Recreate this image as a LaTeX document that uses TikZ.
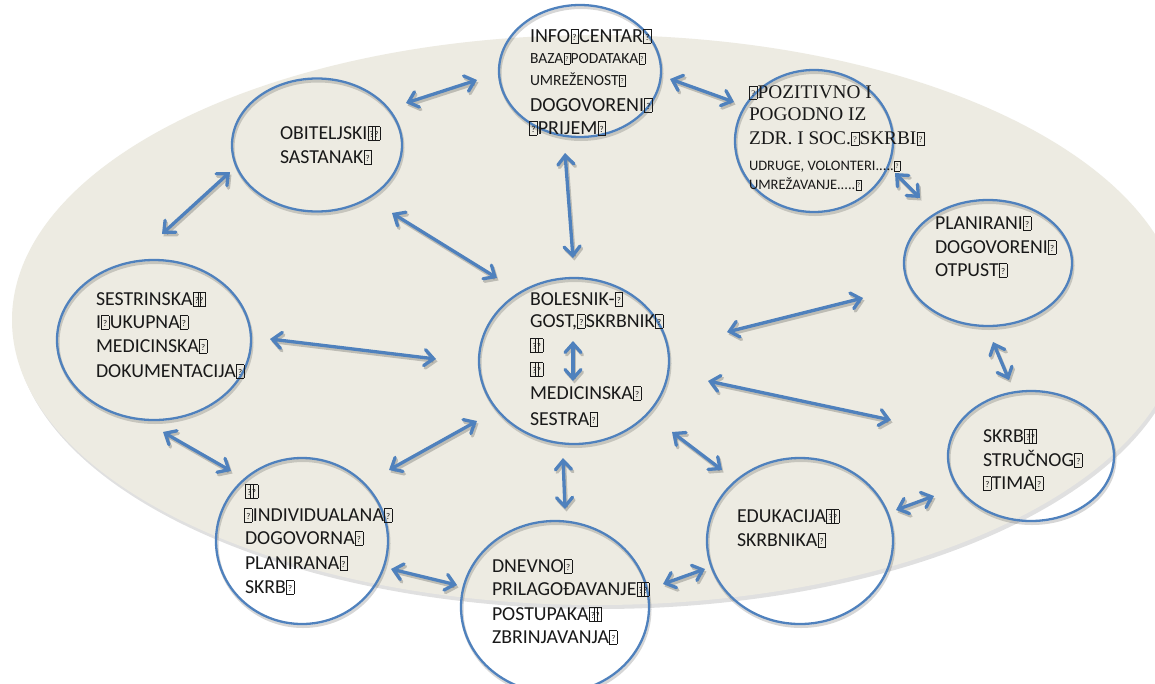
\documentclass[tikz,border=0pt]{standalone}
\usepackage{fontspec}
\setmainfont{Carlito}
\newfontfamily\serifface{Liberation Serif}
\usetikzlibrary{arrows.meta,shapes.geometric}

\definecolor{ringblue}{RGB}{79,129,189}
\definecolor{paper}{RGB}{237,235,226}
\definecolor{ink}{RGB}{25,25,25}

% font sizes (1pt = 1 pixel of the canvas)
\newcommand\szMain{\fontsize{19.8}{23.6}\selectfont}
\newcommand\szHead{\fontsize{20}{24}\selectfont}
\newcommand\szSmall{\fontsize{15.5}{18}\selectfont}
\newcommand\szTiny{\fontsize{14.5}{17}\selectfont}
\newcommand\szSerif{\serifface\fontsize{19.3}{23}\selectfont}

% placeholder glyph box left by a missing character
\newcommand\qb{\kern0.3pt\raisebox{-0.04em}{\setlength\fboxsep{0pt}\setlength\fboxrule{0.45pt}%
  \fbox{\makebox[0.36em][c]{\rule{0pt}{0.66em}\raisebox{0.12em}{\scalebox{0.45}{?}}}}}\kern0.3pt}
\newcommand\qo{\qb\kern0.2pt}
\newcommand\qq{\qb\kern-0.2em\qb}

\begin{document}
\begin{tikzpicture}[x=1pt,y=-1pt,
  ring/.style={ellipse, draw=ringblue, line width=2.3pt, inner sep=0pt,
    preaction={draw=black, draw opacity=0.16, line width=3pt,
      transform canvas={shift={(1pt,-2.5pt)}}}},
  txt/.style={anchor=base west, inner sep=0pt, outer sep=0pt, text=ink, font=\szMain},
  arr/.style={draw=ringblue, line width=3.3pt,
    {Straight Barb[length=9pt,width=16pt,line cap=round]}-{Straight Barb[length=9pt,width=16pt,line cap=round]}},
  arrshade/.style={arr, draw=black, draw opacity=0.2,
    transform canvas={shift={(1.5pt,-2.5pt)}}}
]
\useasboundingbox (0,0) rectangle (1155,683);
\fill[white] (0,0) rectangle (1155,683);

% backdrop
\fill[black, opacity=0.12] (599,324) ellipse [x radius=585, y radius=285];
\fill[paper] (597,320) ellipse [x radius=585, y radius=285];

% circles
\node[ring, minimum width=162, minimum height=132] (info) at (580,71) {};
\node[ring, minimum width=158, minimum height=142] (pozit) at (814,141) {};
\node[ring, minimum width=170, minimum height=133] (obit) at (317,145) {};
\node[ring, minimum width=168, minimum height=126] (plan) at (988,263) {};
\node[ring, minimum width=194, minimum height=160] (sestr) at (154,340) {};
\node[ring, minimum width=190, minimum height=166] (boles) at (574,361) {};
\node[ring, minimum width=166, minimum height=130] (tim) at (1031,456) {};
\node[ring, minimum width=186, minimum height=166] (eduk) at (800,541) {};
\node[ring, minimum width=172, minimum height=166] (indiv) at (302,541) {};
\node[ring, minimum width=188, minimum height=172] (dnev) at (555,607) {};

% INFO CENTAR
\node[txt, font=\szHead]  (info-1) at (530,42)  {INFO\qo CENTAR\qb};
\node[txt, font=\szSmall] (info-2) at (530,63)  {BAZA\qo PODATAKA\qb};
\node[txt, font=\szSmall] (info-3) at (530,85)  {UMREŽENOST\qb};
\node[txt, font=\szHead]  (info-4) at (530,111) {DOGOVORENI\qb};
\node[txt, font=\szHead]  (info-5) at (529,134) {\qo PRIJEM\qb};

% POZITIVNO I POGODNO
\node[txt, font=\szSerif] (poz-1) at (749,98)  {\qo POZITIVNO I};
\node[txt, font=\szSerif] (poz-2) at (749,120) {POGODNO IZ};
\node[txt, font=\szSerif] (poz-3) at (749,144) {ZDR. I SOC.\qo SKRBI\qb};
\node[txt, font=\szTiny]  (poz-4) at (749,170) {UDRUGE, VOLONTERI.....\qb};
\node[txt, font=\szTiny]  (poz-5) at (749,189) {UMREŽAVANJE.....\qb};

% OBITELJSKI SASTANAK
\node[txt] (obit-1) at (280,139) {OBITELJSKI\qq};
\node[txt] (obit-2) at (280,163) {SASTANAK\qb};

% SESTRINSKA DOKUMENTACIJA
\node[txt] (sestr-1) at (96,305) {SESTRINSKA\qq};
\node[txt] (sestr-2) at (96,328) {I\qo UKUPNA\qb};
\node[txt] (sestr-3) at (96,352) {MEDICINSKA\qb};
\node[txt] (sestr-4) at (96,377) {DOKUMENTACIJA\qb};

% BOLESNIK - MEDICINSKA SESTRA
\node[txt] (boles-1) at (530,305) {BOLESNIK-\qb};
\node[txt] (boles-2) at (530,327) {GOST,\qo SKRBNIK\qb};
\node[txt] (boles-3) at (530,351) {\qq};
\node[txt] (boles-4) at (530,375) {\qq};
\node[txt] (boles-5) at (530,399) {MEDICINSKA\qb};
\node[txt] (boles-6) at (530,425) {SESTRA\qb};

% PLANIRANI OTPUST
\node[txt] (plan-1) at (935,229) {PLANIRANI\qb};
\node[txt] (plan-2) at (935,253) {DOGOVORENI\qb};
\node[txt] (plan-3) at (935,276) {OTPUST\qb};

% SKRB STRUCNOG TIMA
\node[txt] (tim-1) at (983,442) {SKRB\qq};
\node[txt] (tim-2) at (983,466) {STRUČNOG\qb};
\node[txt] (tim-3) at (983,489) {\qo TIMA\qb};

% EDUKACIJA SKRBNIKA
\node[txt] (eduk-1) at (737,522) {EDUKACIJA\qq};
\node[txt] (eduk-2) at (737,546) {SKRBNIKA\qb};

% INDIVIDUALNA SKRB
\node[txt] (indiv-1) at (245,497) {\qq};
\node[txt] (indiv-2) at (244,521) {\qo INDIVIDUALANA\qb};
\node[txt] (indiv-3) at (245,544) {DOGOVORNA\qb};
\node[txt] (indiv-4) at (245,569) {PLANIRANA\qb};
\node[txt] (indiv-5) at (245,593) {SKRB\qb};

% DNEVNO PRILAGODAVANJE
\node[txt] (dnev-1) at (492,572) {DNEVNO\qb};
\node[txt] (dnev-2) at (492,595) {PRILAGOĐAVANJE\qq};
\node[txt] (dnev-3) at (492,620) {POSTUPAKA\qq};
\node[txt] (dnev-4) at (492,643) {ZBRINJAVANJA\qb};

% connector end points
\coordinate (obit-info-a) at (406,103);
\coordinate (obit-info-b) at (477,80);
\coordinate (info-poz-a)  at (670,79);
\coordinate (info-poz-b)  at (734,102);
\coordinate (info-bol-a)  at (565,153);
\coordinate (info-bol-b)  at (573,258);
\coordinate (obit-ses-a)  at (230,172);
\coordinate (obit-ses-b)  at (162,234);
\coordinate (obit-bol-a)  at (392,213);
\coordinate (obit-bol-b)  at (497,278);
\coordinate (poz-plan-a)  at (895,173);
\coordinate (poz-plan-b)  at (920,198);
\coordinate (ses-bol-a)   at (270,339);
\coordinate (ses-bol-b)   at (436,359);
\coordinate (bol-plan-a)  at (727,332);
\coordinate (bol-plan-b)  at (863,298);
\coordinate (plan-tim-a)  at (993,342);
\coordinate (plan-tim-b)  at (1009,380);
\coordinate (bol-tim-a)   at (708,381);
\coordinate (bol-tim-b)   at (891,420);
\coordinate (ses-ind-a)   at (163,432);
\coordinate (ses-ind-b)   at (231,471);
\coordinate (bol-ind-a)   at (477,421);
\coordinate (bol-ind-b)   at (389,470);
\coordinate (bol-dnev-a)  at (563,458);
\coordinate (bol-dnev-b)  at (565,509);
\coordinate (bol-edu-a)   at (672,432);
\coordinate (bol-edu-b)   at (722,470);
\coordinate (ind-dnev-a)  at (391,569);
\coordinate (ind-dnev-b)  at (457,585);
\coordinate (dnev-edu-a)  at (663,584);
\coordinate (dnev-edu-b)  at (705,569);
\coordinate (edu-tim-a)   at (896,510);
\coordinate (edu-tim-b)   at (934,496);
\coordinate (inner-a)     at (573,341);
\coordinate (inner-b)     at (573,381);

% double-headed connectors with a soft shade
\foreach \p in {obit-info, info-poz, info-bol, obit-ses, obit-bol, poz-plan, ses-bol,
  bol-plan, plan-tim, bol-tim, ses-ind, bol-ind, bol-dnev, bol-edu, ind-dnev,
  dnev-edu, edu-tim, inner} {
  \draw[arrshade] (\p-a) -- (\p-b);
  \draw[arr] (\p-a) -- (\p-b);
}
\end{tikzpicture}
\end{document}
